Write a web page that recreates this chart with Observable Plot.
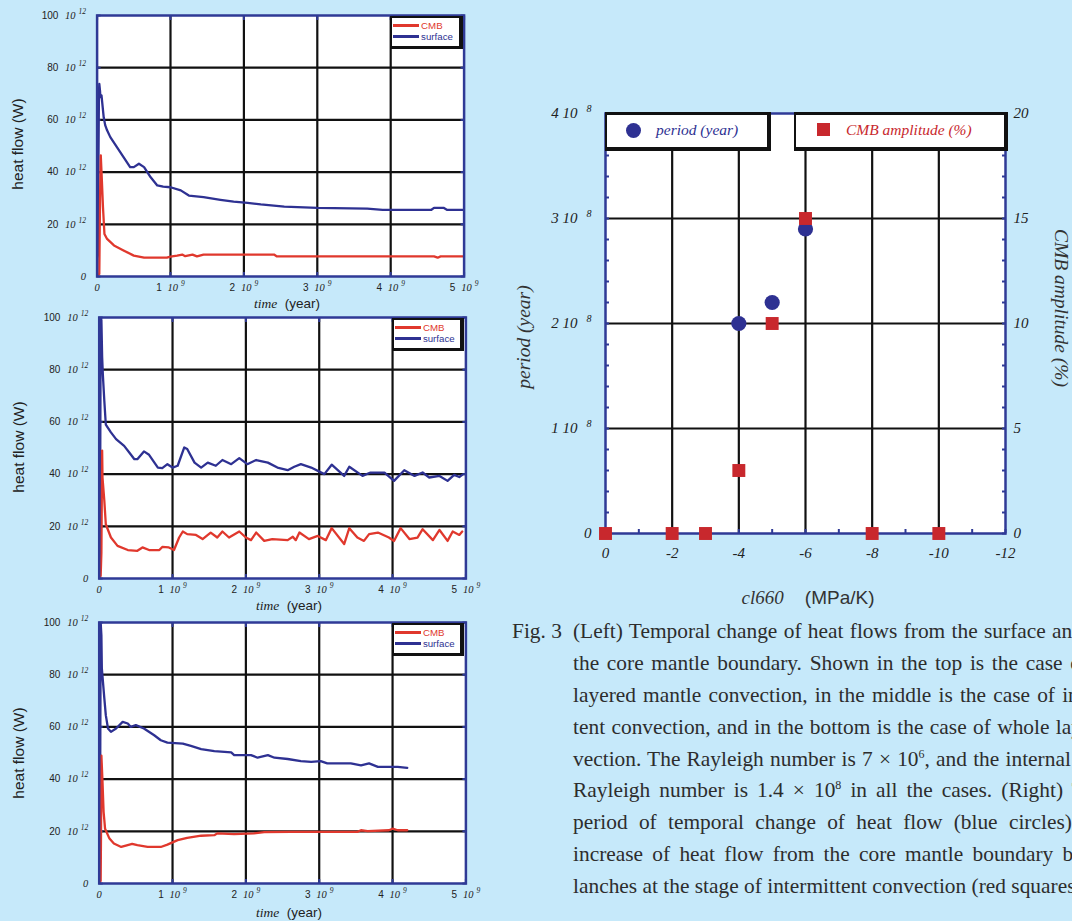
<!DOCTYPE html>
<html><head><meta charset="utf-8">
<script src="https://cdn.jsdelivr.net/npm/d3@7"></script>
<script src="https://cdn.jsdelivr.net/npm/@observablehq/plot@0.6"></script>
<style>
html,body{margin:0;padding:0;background:#c6e9fa;width:1072px;height:921px;overflow:hidden;}
#root{position:relative;width:1072px;height:921px;overflow:hidden;}
.box{position:absolute;box-sizing:border-box;background:#fff;border-style:solid;border-color:#111;}
.j{text-align:justify;text-align-last:justify;height:31.9px;}
.n{white-space:nowrap;height:31.9px;}
sup{font-size:12px;line-height:0;vertical-align:8px;}
</style></head><body><div id="root"></div>
<script>
// ---------- data (time in 10^9 yr, heat flow in 10^12 W) ----------
const p1Surface = [[0,0.5],[0.005,7],[0.01,8],[0.025,70],[0.03,73.8],[0.04,71],[0.045,68.7],[0.06,69.4],[0.09,61],[0.11,58],[0.136,56],[0.18,53.4],[0.27,49.6],[0.36,45.7],[0.45,41.9],[0.5,41.9],[0.57,43.2],[0.64,41.9],[0.73,38],[0.82,34.9],[0.9,34.4],[1.0,34.2],[1.14,33],[1.25,31],[1.45,30.4],[1.68,29.4],[1.86,28.7],[2.05,28.2],[2.23,27.6],[2.55,26.8],[3.0,26.3],[3.68,26],[3.89,25.5],[4.55,25.5],[4.59,26.3],[4.72,26.3],[4.77,25.5],[4.98,25.5]];
const p1Cmb = [[0,0.5],[0.03,1],[0.04,30],[0.05,46.4],[0.065,36.8],[0.08,26.6],[0.1,16.3],[0.136,14.4],[0.23,11.9],[0.36,10],[0.5,8],[0.64,7.2],[0.95,7.2],[1.0,7.6],[1.09,8],[1.16,8.4],[1.2,7.8],[1.3,8.4],[1.36,7.7],[1.45,8.4],[2.41,8.4],[2.45,7.7],[4.59,7.7],[4.64,7.2],[4.68,7.7],[4.9,7.7],[4.98,7.7]];
const p2Surface = [[0,0.5],[0.01,5],[0.02,100],[0.03,99],[0.04,85],[0.05,78],[0.07,68],[0.09,59],[0.16,56],[0.23,53.4],[0.34,50.8],[0.41,48.3],[0.48,45.7],[0.52,45.7],[0.61,48.7],[0.68,47.4],[0.8,42.5],[0.86,42.3],[0.93,43.8],[1.0,42.5],[1.07,43.2],[1.16,50.2],[1.2,49.6],[1.3,44.4],[1.39,42.5],[1.48,44.4],[1.59,43.2],[1.68,45.4],[1.8,43.8],[1.91,46.1],[2.02,43.8],[2.14,45.4],[2.3,44.4],[2.43,42.5],[2.57,41.5],[2.66,42.8],[2.75,43.8],[2.89,42.5],[3.07,40],[3.17,43.6],[3.34,39.3],[3.41,42.8],[3.59,39.3],[3.7,40.6],[3.89,40.6],[4.02,37.4],[4.16,41.5],[4.3,39.3],[4.41,40.6],[4.5,38.7],[4.64,39.3],[4.75,37.4],[4.84,39.7],[4.91,38.9],[4.95,39.7]];
const p2Cmb = [[0,0.5],[0.02,1],[0.03,10],[0.04,49],[0.045,38.7],[0.07,29.8],[0.09,20.8],[0.16,15.7],[0.25,12.5],[0.39,10.9],[0.52,10.6],[0.59,11.9],[0.68,10.9],[0.82,10.9],[0.86,12.1],[0.95,11.9],[1.02,10.9],[1.09,15.7],[1.14,18],[1.2,17],[1.32,16.7],[1.41,15.1],[1.52,17.6],[1.61,15.7],[1.68,18],[1.77,15.7],[1.91,18],[2.0,15.7],[2.07,14.7],[2.14,17.6],[2.25,14.4],[2.36,15.1],[2.57,14.7],[2.64,16],[2.68,14.7],[2.73,17.6],[2.86,15.1],[2.98,16.3],[3.09,14.7],[3.17,19.3],[3.34,13.2],[3.41,19.3],[3.52,15.7],[3.61,14.4],[3.68,17],[3.8,17.6],[3.95,15.7],[4.02,14.4],[4.11,19.3],[4.23,15.1],[4.34,15.7],[4.41,18.9],[4.55,14.7],[4.64,18.6],[4.75,14.4],[4.82,18],[4.91,16.7],[4.95,18]];
const p3Surface = [[0,0.5],[0.01,7],[0.02,100],[0.03,95],[0.036,82.4],[0.07,70.9],[0.09,64.5],[0.12,59.4],[0.16,58.1],[0.23,59.4],[0.32,61.9],[0.39,61.3],[0.43,60],[0.5,60.7],[0.61,59.4],[0.75,56.8],[0.84,54.9],[0.93,54],[1.14,53.6],[1.25,52.7],[1.39,51.5],[1.57,50.7],[1.8,50.2],[1.84,49.2],[2.07,49.2],[2.16,48.2],[2.3,49.2],[2.39,48.2],[2.57,47.7],[2.75,46.9],[2.89,46.6],[3.02,46.9],[3.11,46],[3.43,46],[3.57,45.3],[3.68,46],[3.8,44.7],[4.07,44.7],[4.2,44.3]];
const p3Cmb = [[0,0.3],[0.02,1],[0.025,20],[0.03,49],[0.045,39],[0.06,27.5],[0.08,21],[0.14,17.2],[0.2,15.3],[0.3,14],[0.45,15.2],[0.52,14.7],[0.66,14],[0.84,14],[0.93,14.9],[1.07,16.6],[1.2,17.5],[1.39,18.3],[1.57,18.5],[1.61,19.2],[1.84,18.9],[2.11,19.2],[2.25,19.7],[2.61,19.8],[3.52,19.8],[3.57,20.4],[3.66,20.1],[3.95,20.4],[4.0,21],[4.07,20.4],[4.2,20.4]];

// right panel
const ampCl660 = [0, -2, -3, -4, -5, -6, -8, -10];
const ampValues = [0, 0, 0, 3, 10, 15, 0, 0];          // CMB amplitude (%)
const periodCl660 = [-4, -5, -6];
const periodValues = [2.0e8, 2.2e8, 2.9e8];            // period (year)

// ticks
const timeTicks = [0, 1, 2, 3, 4, 5];
const heatTicks = [0, 20, 40, 60, 80, 100];
const clTicks = [0, -2, -4, -6, -8, -10, -12];
const periodTicks = [0, 1e8, 2e8, 3e8, 4e8];

// ---------- styles ----------
const BLUE = "#2e3192", RED = "#e0382d", RED2 = "#c8282d", FRAME = "#2f3a96";
const SERIF = "'Liberation Serif','Times New Roman',serif";
const SANS = "'Liberation Sans',Arial,sans-serif";
const root = document.getElementById("root");

function richText(svg) {
  d3.select(svg).selectAll("text").each(function () {
    const el = d3.select(this);
    const s = el.text();
    const m = /^(ly|lx|py|ay|cx):(.*)$/.exec(s);
    if (!m) return;
    const k = m[1], v = m[2];
    el.text(null).attr("fill", "#222");
    const it = sel => sel.attr("font-family", SERIF).attr("font-style", "italic");
    if (k === "ly" || k === "lx") {
      if (v === "0") { it(el.append("tspan")).attr("font-size", 10.5).text("0"); return; }
      el.append("tspan").attr("font-family", SANS).attr("font-size", 10).text(v + " ");
      it(el.append("tspan")).attr("dx", k === "ly" ? 4 : 3).attr("font-size", 10.5).text("10");
      it(el.append("tspan")).attr("dx", 3).attr("dy", -5).attr("font-size", 7.5).text(k === "ly" ? "12" : "9");
    } else if (k === "py") {
      if (v === "0") { it(el.append("tspan")).attr("font-size", 15).text("0"); return; }
      it(el.append("tspan")).attr("font-size", 15).text(v + " 10");
      it(el.append("tspan")).attr("dx", 9).attr("dy", -6).attr("font-size", 10).text("8");
    } else {
      it(el.append("tspan")).attr("font-size", 15).text(v);
    }
  });
}

function place(node, left, top) {
  node.style.position = "absolute";
  node.style.left = left + "px";
  node.style.top = top + "px";
  root.appendChild(node);
}

function centerText(html, cx, cy, style, rot = 0) {
  const d = document.createElement("div");
  d.innerHTML = html;
  d.style.cssText = `position:absolute;left:${cx}px;top:${cy}px;white-space:nowrap;line-height:1;transform:translate(-50%,-50%) rotate(${rot}deg);${style}`;
  root.appendChild(d);
}

const grid = {stroke: "#111", strokeOpacity: 1, strokeWidth: 2.2};
const inward = {tickSize: -4, stroke: FRAME, strokeWidth: 2, tickFormat: () => "", label: null};

function leftPanel(surface, cmb, top, ml, mr) {
  const svg = Plot.plot({
    width: 480, height: 310, marginLeft: ml, marginRight: mr, marginTop: 15, marginBottom: 34,
    x: {domain: [0, 5]}, y: {domain: [0, 100]},
    style: {background: "transparent", overflow: "visible", fontFamily: SANS, fontSize: "10px", color: "#222"},
    marks: [
      Plot.frame({fill: "white"}),
      Plot.gridX(timeTicks.slice(1, -1), grid),
      Plot.gridY(heatTicks.slice(1, -1), grid),
      Plot.axisX(timeTicks, {tickSize: 0, tickPadding: 7, tickFormat: d => "lx:" + d, label: null}),
      Plot.axisY(heatTicks, {tickSize: 0, tickPadding: 11, tickFormat: d => "ly:" + d, label: null}),
      Plot.axisX(timeTicks, {anchor: "bottom", ...inward}),
      Plot.axisX(timeTicks, {anchor: "top", ...inward}),
      Plot.axisY(heatTicks, {anchor: "left", ...inward}),
      Plot.axisY(heatTicks, {anchor: "right", ...inward}),
      Plot.line(surface, {x: d => d[0], y: d => d[1], stroke: BLUE, strokeWidth: 2.3, clip: true}),
      Plot.line(cmb, {x: d => d[0], y: d => d[1], stroke: RED, strokeWidth: 2.3, clip: true}),
      Plot.frame({stroke: FRAME, strokeWidth: 2.5})
    ]
  });
  richText(svg);
  place(svg, 0, top);
  // legend
  const frameTop = top + 15, frameRight = 480 - mr;
  const bx = document.createElement("div");
  bx.className = "box";
  const left = frameRight - 73.5;
  bx.style.cssText = `left:${left}px;top:${frameTop + 0.5}px;width:${frameRight - left - 1}px;height:33px;border-width:2px 4px 3px 2px;`;
  root.appendChild(bx);
  const items = [["CMB", RED, 10.5], ["surface", BLUE, 21.5]];
  for (const [name, col, dy] of items) {
    const ln = document.createElement("div");
    ln.style.cssText = `position:absolute;left:${left + 3}px;top:${frameTop + dy - 1.2}px;width:26px;height:2.5px;background:${col};`;
    root.appendChild(ln);
    const tx = document.createElement("div");
    tx.textContent = name;
    tx.style.cssText = `position:absolute;left:${left + 31}px;top:${frameTop + dy - 5.5}px;font:9.7px/11px ${SANS};color:${col};white-space:nowrap;`;
    root.appendChild(tx);
  }
}

leftPanel(p1Surface, p1Cmb, 0, 96.6, 16.4);
leftPanel(p2Surface, p2Cmb, 302, 98.7, 14.6);
leftPanel(p3Surface, p3Cmb, 607, 98.7, 14.6);

const timeTitle = `<span style="font-family:${SERIF};font-style:italic">time</span>&nbsp;&nbsp;(year)`;
centerText(timeTitle, 287, 304, `font:13.5px ${SANS};color:#222;`);
centerText(timeTitle, 289, 606, `font:13.5px ${SANS};color:#222;`);
centerText(timeTitle, 289, 913, `font:13.5px ${SANS};color:#222;`);
centerText("heat flow (W)", 18, 144, `font:15.5px ${SANS};color:#222;`, -90);
centerText("heat flow (W)", 19, 447, `font:15.5px ${SANS};color:#222;`, -90);
centerText("heat flow (W)", 19, 753, `font:15.5px ${SANS};color:#222;`, -90);

// ---------- right panel ----------
const amps = ampCl660.map((c, i) => ({cl: c, amp: ampValues[i]}));
const periods = periodCl660.map((c, i) => ({cl: c, period: periodValues[i]}));
const AMP2YEAR = 4e8 / 20;
const rsvg = Plot.plot({
  width: 572, height: 525, marginLeft: 105, marginRight: 67, marginTop: 23, marginBottom: 82,
  x: {domain: [0, -12]}, y: {domain: [0, 4e8]},
  style: {background: "transparent", overflow: "visible", fontFamily: SERIF, fontSize: "15px", color: "#222"},
  marks: [
    Plot.frame({fill: "white"}),
    Plot.gridX(clTicks.slice(1, -1), grid),
    Plot.gridY(periodTicks.slice(1, -1), grid),
    Plot.axisX(clTicks, {tickSize: 0, tickPadding: 14, tickFormat: d => "cx:" + d, label: null}),
    Plot.axisY(periodTicks, {anchor: "left", tickSize: 0, tickPadding: 14, tickFormat: d => "py:" + d / 1e8, label: null}),
    Plot.axisY(periodTicks, {anchor: "right", tickSize: 0, tickPadding: 8, tickFormat: d => "ay:" + d / AMP2YEAR, label: null}),
    Plot.axisX(d3.range(0, -12.5, -1), {anchor: "bottom", ...inward}),
    Plot.axisY(d3.range(0, 4.01e8, 0.2e8), {anchor: "left", ...inward}),
    Plot.axisY(d3.range(0, 4.01e8, 0.2e8), {anchor: "right", ...inward}),
    Plot.frame({stroke: FRAME, strokeWidth: 2.5}),
    Plot.dot(periods, {x: "cl", y: "period", r: 7.6, fill: BLUE, symbol: "circle"}),
    Plot.dot(amps, {x: "cl", y: d => d.amp * AMP2YEAR, r: 7.3, fill: RED2, symbol: "square"})
  ]
});
richText(rsvg);
place(rsvg, 500, 90);

// legend boxes
function rbox(l, r) {
  const b = document.createElement("div");
  b.className = "box";
  b.style.cssText = `left:${l}px;top:112px;width:${r - l}px;height:39px;border-width:3px 4px 4px 2px;`;
  root.appendChild(b);
}
rbox(605, 771);
rbox(794, 1008);
const cdot = document.createElement("div");
cdot.style.cssText = `position:absolute;left:${633 - 7.5}px;top:${130 - 7.5}px;width:15px;height:15px;border-radius:50%;background:${BLUE};`;
root.appendChild(cdot);
const sq = document.createElement("div");
sq.style.cssText = `position:absolute;left:${823 - 6.5}px;top:${129 - 6.5}px;width:13px;height:13px;background:${RED2};`;
root.appendChild(sq);
const lt1 = document.createElement("div");
lt1.textContent = "period (year)";
lt1.style.cssText = `position:absolute;left:656px;top:121px;font:italic 15.5px/18px ${SERIF};color:${BLUE};white-space:nowrap;`;
root.appendChild(lt1);
const lt2 = document.createElement("div");
lt2.textContent = "CMB amplitude (%)";
lt2.style.cssText = `position:absolute;left:846px;top:121px;font:italic 15.5px/18px ${SERIF};color:${RED2};white-space:nowrap;`;
root.appendChild(lt2);

centerText("period (year)", 524, 337, `font:italic 19.5px ${SERIF};color:#333;`, -90);
centerText("CMB amplitude (%)", 1061, 308, `font:italic 19.5px ${SERIF};color:#333;`, 90);
centerText(`<span style="font-family:${SERIF};font-style:italic">cl660</span>&nbsp;&nbsp;&nbsp;&nbsp;(MPa/K)`, 808, 598, `font:19px ${SANS};color:#333;`);

// ---------- caption ----------
const captionLines = [
  ["(Left) Temporal change of heat flows from the surface and", 510],
  ["the core mantle boundary. Shown in the top is the case of", 515],
  ["layered mantle convection, in the middle is the case of intermit-", 564],
  ["tent convection, and in the bottom is the case of whole layer con-", 570],
  ["vection. The Rayleigh number is 7 × 10<sup>6</sup>, and the internal heating", 567],
  ["Rayleigh number is 1.4 × 10<sup>8</sup> in all the cases. (Right) The", 532],
  ["period of temporal change of heat flow (blue circles) and", 541],
  ["increase of heat flow from the core mantle boundary by ava-", 557],
  ["lanches at the stage of intermittent convection (red squares).", 0]
];
const cap = document.createElement("div");
cap.style.cssText = `position:absolute;left:512px;top:616px;font:21.4px/31.9px ${SERIF};color:#2d2d2d;`;
const fig = document.createElement("div");
fig.textContent = "Fig. 3";
fig.style.cssText = "position:absolute;left:0;top:0;white-space:nowrap;";
cap.appendChild(fig);
const body = document.createElement("div");
body.style.cssText = "position:absolute;left:61px;top:0;width:700px;";
captionLines.forEach(([t, w]) => {
  const d = document.createElement("div");
  if (w) { d.className = "j"; d.style.width = w + "px"; }
  else d.className = "n";
  d.innerHTML = t;
  body.appendChild(d);
});
cap.appendChild(body);
root.appendChild(cap);
</script></body></html>
